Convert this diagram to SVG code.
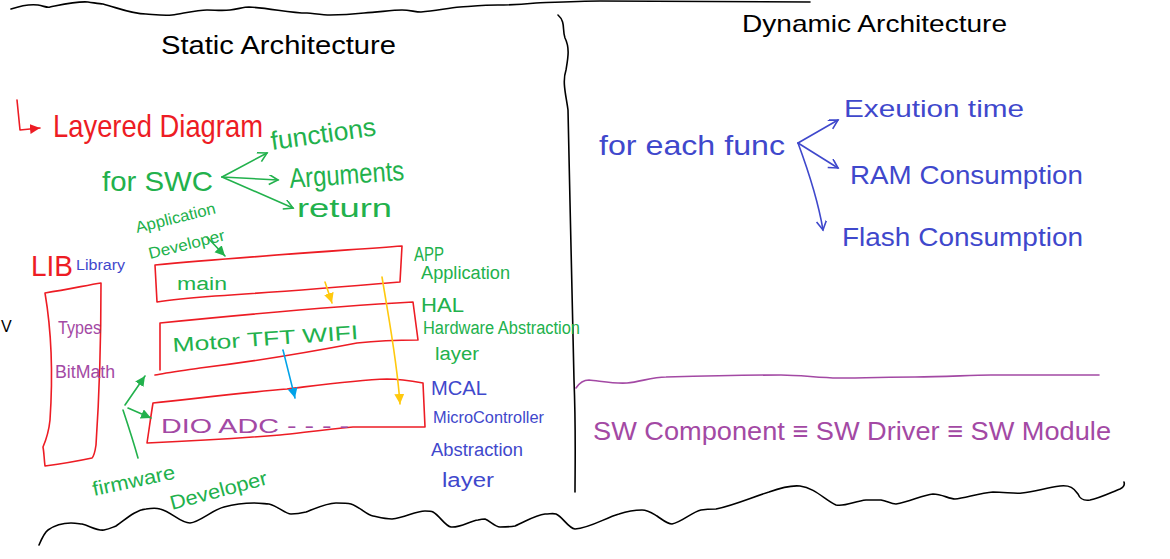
<svg xmlns="http://www.w3.org/2000/svg" width="1170" height="559" viewBox="0 0 1170 559">
<style>
.t{font-family:"Liberation Sans","DejaVu Sans",sans-serif;}
.k{fill:#000}.r{fill:#ED1C24}.g{fill:#22B14C}.b{fill:#3F48CC}.p{fill:#A349A4}
.ln{fill:none;stroke-width:1.6;stroke-linecap:round;stroke-linejoin:round}
.sk{stroke:#000}.sr{stroke:#ED1C24}.sg{stroke:#22B14C}.sb{stroke:#3F48CC}.sp{stroke:#A349A4}.sy{stroke:#FFC90E}.sc{stroke:#00A2E8}
</style>
<defs>
<marker id="og" markerWidth="12" markerHeight="12" refX="10" refY="5" orient="auto" markerUnits="userSpaceOnUse"><path d="M1,0 L10,5 L1,10" fill="none" stroke="#22B14C" stroke-width="1.6"/></marker>
<marker id="ob" markerWidth="12" markerHeight="12" refX="10" refY="5" orient="auto" markerUnits="userSpaceOnUse"><path d="M1,0 L10,5 L1,10" fill="none" stroke="#3F48CC" stroke-width="1.6"/></marker>
<marker id="fg" markerWidth="12" markerHeight="12" refX="10" refY="5" orient="auto" markerUnits="userSpaceOnUse"><path d="M0,0 L10,5 L0,10 Z" fill="#22B14C"/></marker>
<marker id="fr" markerWidth="12" markerHeight="12" refX="10" refY="5" orient="auto" markerUnits="userSpaceOnUse"><path d="M0,0 L10,5 L0,10 Z" fill="#ED1C24"/></marker>
<marker id="fy" markerWidth="12" markerHeight="12" refX="10" refY="5" orient="auto" markerUnits="userSpaceOnUse"><path d="M0,0 L10,5 L0,10 Z" fill="#FFC90E"/></marker>
<marker id="fc" markerWidth="12" markerHeight="12" refX="10" refY="5" orient="auto" markerUnits="userSpaceOnUse"><path d="M0,0 L10,5 L0,10 Z" fill="#00A2E8"/></marker>
</defs>
<rect width="1170" height="559" fill="#fff"/>

<g id="frame">
<path class="ln sk" d="M11,9 C20,6 30,4 38,5 C44,6 47,8 50,7 C65,4 78,1 88,2 C95,3 100,4 103,4 C118,8 132,14 146,14 C158,15 165,16 172,15 C185,13 198,10 207,10 C215,10 222,11 230,10 C238,9 244,7 249,7 C270,8 290,13 307,13 C317,14 324,15 330,15 C345,15 355,14 364,13 C380,12 392,10 402,10 C410,10 415,12 421,12 C435,11 448,8 460,7 C475,6 487,5 498,5 C512,5 525,4 536,3 C560,2 580,1 600,1 C680,1 750,2 810,2"/>
<path class="ln sk" d="M558,15 C566,22 562,30 565,38 C570,48 568,58 566,70 C562,82 566,95 568,110 C570,200 572,300 574,380 C576,430 575,470 575,492"/>
<path class="ln sk" d="M39,545 C42,538 45,532 48,530 C55,525 62,523 71,523 C77,523 80,524 82,524 C90,526 97,531 104,530 C110,529 113,527 116,526 C125,520 135,510 146,509 C152,508 157,508 160,509 C172,512 180,523 190,523 C200,522 212,510 224,507 C235,504 246,503 254,503 C262,503 265,504 269,504 C278,506 285,514 291,514 C298,514 302,513 306,512 C316,508 327,503 336,503 C342,503 347,503 351,504 C360,507 367,515 373,516 C378,517 384,519 392,519 C405,518 415,511 425,511 C429,511 431,511 433,512 C440,516 445,526 451,527 C460,528 470,521 478,520 C482,519 483,519 485,519 C490,521 495,527 500,527 C505,527 510,527 515,526 C525,522 535,515 545,514 C550,514 553,513 556,514 C563,517 568,528 575,529 C590,528 605,518 619,514 C628,511 635,510 642,510 C648,510 652,513 657,516 C663,520 667,524 672,524 C682,522 692,512 701,510 C707,509 711,509 716,509 C735,505 755,496 769,492 C780,488 790,485 800,486 C815,488 825,500 836,505 C845,507 855,501 866,500 C872,500 877,500 881,500 C887,501 891,504 896,504 C910,502 922,495 933,494 C942,494 949,499 955,499 C965,498 980,493 993,492 C1005,492 1015,494 1022,493 C1035,492 1045,488 1060,486 C1070,485 1074,488 1078,494 C1080,499 1083,501 1090,500 C1100,498 1112,492 1120,489 C1124,487 1125,485 1124,482"/>
<path class="ln sp" d="M576,388 C580,382 584,380 589,380 C600,381 615,384 627,383 C640,382 652,377 666,377 C700,376 745,375 781,375 C800,375 820,378 838,378 C865,378 890,377 915,377 C945,377 970,375 991,375 C1030,375 1065,375 1099,375"/>
</g>

<g id="titles">
<text class="t k" x="161" y="54" font-size="26" textLength="235" lengthAdjust="spacingAndGlyphs">Static Architecture</text>
<text class="t k" x="742" y="32" font-size="24" textLength="265" lengthAdjust="spacingAndGlyphs">Dynamic Architecture</text>
<text class="t k" x="1" y="332" font-size="16">V</text>
</g>

<g id="layered">
<text class="t r" x="53" y="137" font-size="32" textLength="210" lengthAdjust="spacingAndGlyphs">Layered Diagram</text>
</g>

<g id="swc">
<text class="t g" x="102" y="191" font-size="28" textLength="111" lengthAdjust="spacingAndGlyphs">for SWC</text>
<text class="t g" x="272" y="150" font-size="26" textLength="106" lengthAdjust="spacingAndGlyphs" transform="rotate(-8 272 150)">functions</text>
<text class="t g" x="290" y="188" font-size="28" textLength="115" lengthAdjust="spacingAndGlyphs" transform="rotate(-4 290 188)">Arguments</text>
<text class="t g" x="297" y="217" font-size="26" textLength="95" lengthAdjust="spacingAndGlyphs">return</text>
</g>

<g id="app-developer">
<text class="t g" x="137" y="233" font-size="16" textLength="82" lengthAdjust="spacingAndGlyphs" transform="rotate(-14 137 233)">Application</text>
<text class="t g" x="150" y="259" font-size="16" textLength="78" lengthAdjust="spacingAndGlyphs" transform="rotate(-14 150 259)">Developer</text>
</g>

<g id="lib">
<text class="t r" x="31" y="276" font-size="30" textLength="42" lengthAdjust="spacingAndGlyphs">LIB</text>
<text class="t b" x="76" y="270" font-size="14" textLength="49" lengthAdjust="spacingAndGlyphs">Library</text>
<path class="ln sr" d="M45,293 C70,289 88,285 101,283 C101,330 99,400 96,445 C95,452 94,456 92,458 C78,461 60,464 45,466 C44,458 44,452 43,447 C46,440 49,430 50,420 C52,390 53,340 45,293 Z"/>
<text class="t p" x="58" y="334" font-size="18" textLength="43" lengthAdjust="spacingAndGlyphs">Types</text>
<text class="t p" x="55" y="378" font-size="18" textLength="60" lengthAdjust="spacingAndGlyphs">BitMath</text>
</g>

<g id="app">
<path class="ln sr" d="M155,265 C230,258 320,252 402,246 L400,282 C340,287 280,292 215,296 C190,298 170,300 157,302 Z"/>
<text class="t g" x="177" y="290" font-size="18" textLength="50" lengthAdjust="spacingAndGlyphs">main</text>
<text class="t g" x="414" y="261" font-size="20" textLength="30" lengthAdjust="spacingAndGlyphs">APP</text>
<text class="t g" x="421" y="279" font-size="18" textLength="89" lengthAdjust="spacingAndGlyphs">Application</text>
</g>

<g id="hal">
<path class="ln sr" d="M160,323 C250,314 340,306 413,302 L418,340 C400,340 375,341 357,343 C310,352 250,362 200,368 C180,371 165,373 155,375 M160,323 L160,370"/>
<text class="t g" x="173" y="352" font-size="20" textLength="186" lengthAdjust="spacingAndGlyphs" transform="rotate(-4 173 352)">Motor  TFT  WIFI</text>
<text class="t g" x="421" y="312" font-size="20" textLength="43" lengthAdjust="spacingAndGlyphs">HAL</text>
<text class="t g" x="423" y="334" font-size="18" textLength="157" lengthAdjust="spacingAndGlyphs">Hardware Abstraction</text>
<text class="t g" x="435" y="360" font-size="18" textLength="44" lengthAdjust="spacingAndGlyphs">layer</text>
</g>

<g id="mcal">
<path class="ln sr" d="M153,403 C200,398 250,392 287,389 C320,385 355,380 387,379 C400,379 412,381 423,383 L425,427 C400,427 375,427 353,427 C320,430 300,433 280,435 C230,439 190,441 147,443 C149,430 151,415 153,403 Z"/>
<text class="t p" x="161" y="433" font-size="21" textLength="188" lengthAdjust="spacingAndGlyphs">DIO  ADC  - - - -</text>
<text class="t b" x="431" y="395" font-size="20" textLength="56" lengthAdjust="spacingAndGlyphs">MCAL</text>
<text class="t b" x="433" y="423" font-size="17" textLength="111" lengthAdjust="spacingAndGlyphs">MicroController</text>
<text class="t b" x="431" y="456" font-size="18" textLength="92" lengthAdjust="spacingAndGlyphs">Abstraction</text>
<text class="t b" x="442" y="487" font-size="20" textLength="52" lengthAdjust="spacingAndGlyphs">layer</text>
</g>

<g id="fw-developer">
<text class="t g" x="94" y="496" font-size="20" textLength="84" lengthAdjust="spacingAndGlyphs" transform="rotate(-12 94 496)">firmware</text>
<text class="t g" x="172" y="510" font-size="20" textLength="100" lengthAdjust="spacingAndGlyphs" transform="rotate(-15 172 510)">Developer</text>
</g>

<g id="dynamic">
<text class="t b" x="599" y="155" font-size="28" textLength="186" lengthAdjust="spacingAndGlyphs">for each func</text>
<text class="t b" x="844" y="117" font-size="24" textLength="180" lengthAdjust="spacingAndGlyphs">Exeution time</text>
<text class="t b" x="850" y="184" font-size="26" textLength="233" lengthAdjust="spacingAndGlyphs">RAM Consumption</text>
<text class="t b" x="842" y="246" font-size="26" textLength="241" lengthAdjust="spacingAndGlyphs">Flash Consumption</text>
</g>

<g id="sw-equiv">
<text class="t p" x="593" y="440" font-size="26" textLength="518" lengthAdjust="spacingAndGlyphs">SW Component ≡ SW Driver ≡ SW Module</text>
</g>

<g id="connectors">
<path class="ln sr" d="M17,100 L20,130 L40,128" marker-end="url(#fr)"/>
<path class="ln sg" d="M222,177 L267,153" marker-end="url(#og)"/>
<path class="ln sg" d="M222,177 L278,180" marker-end="url(#og)"/>
<path class="ln sg" d="M222,177 L293,208" marker-end="url(#og)"/>
<path class="ln sg" d="M207,237 L225,256" marker-end="url(#fg)"/>
<path class="ln sy" d="M325,282 L332,303" marker-end="url(#fy)"/>
<path class="ln sy" d="M382,277 C389,320 397,360 400,404" marker-end="url(#fy)"/>
<path class="ln sc" d="M283,350 C287,366 291,382 295,398" marker-end="url(#fc)"/>
<path class="ln sg" d="M138,458 C133,440 128,425 123,410"/>
<path class="ln sg" d="M125,405 L145,376" marker-end="url(#fg)"/>
<path class="ln sg" d="M128,408 L151,418" marker-end="url(#fg)"/>
<path class="ln sb" d="M798,143 L838,120" marker-end="url(#ob)"/>
<path class="ln sb" d="M798,143 L838,168" marker-end="url(#ob)"/>
<path class="ln sb" d="M798,143 C808,170 818,200 823,230" marker-end="url(#ob)"/>
</g>
</svg>
